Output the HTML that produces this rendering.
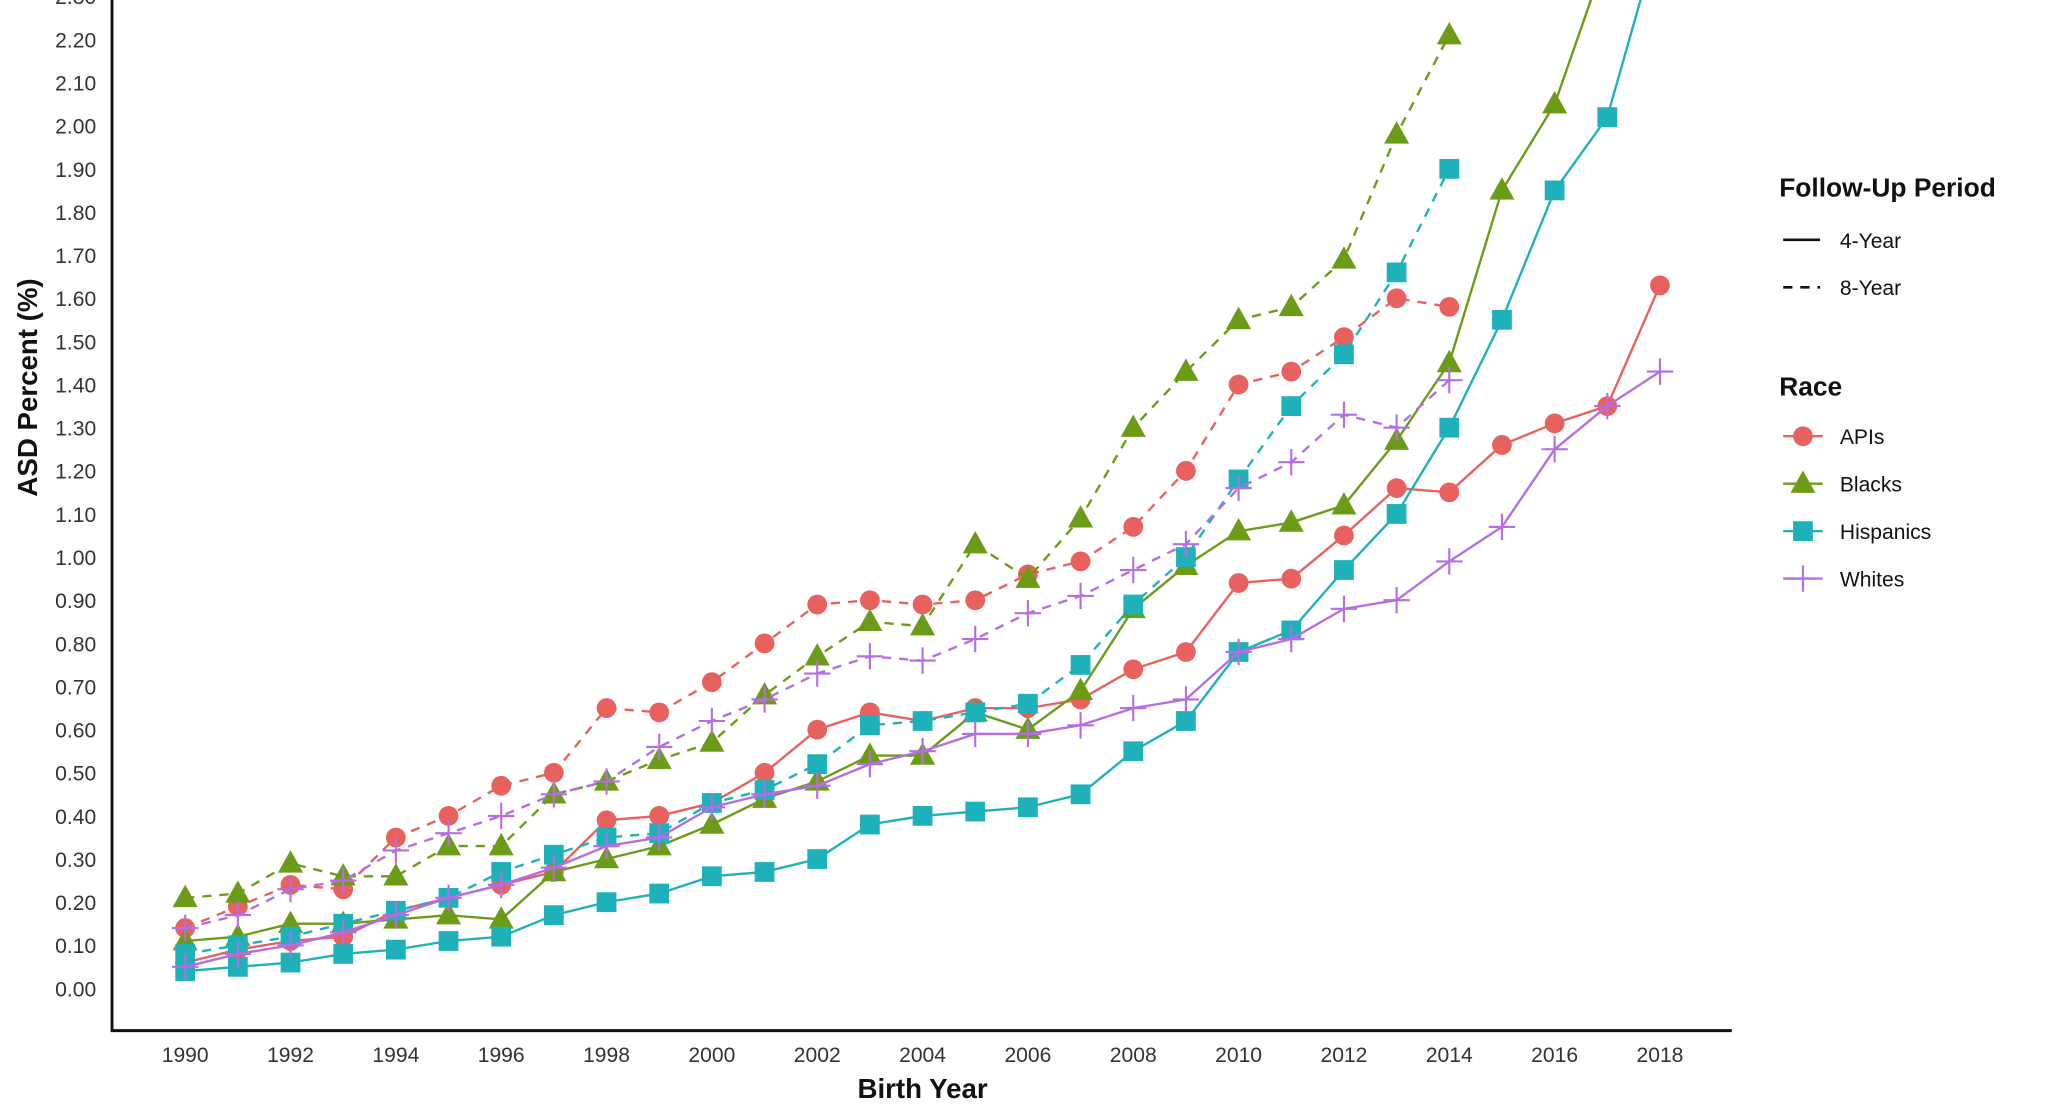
<!DOCTYPE html>
<html><head><meta charset="utf-8"><style>
html,body{margin:0;padding:0;background:#fff;width:2056px;height:1118px;overflow:hidden}
svg{display:block;font-family:"Liberation Sans",Arial,sans-serif}
</style></head><body>
<svg id="chart" width="2056" height="1118" viewBox="0 0 1560 848.3" preserveAspectRatio="none" xmlns="http://www.w3.org/2000/svg">
<defs><clipPath id="plotclip"><rect x="86" y="0" width="1230" height="780"/></clipPath></defs>
<g id="axes"></g>
<g id="marks" clip-path="url(#plotclip)"></g>
<g id="legend"></g>
</svg>
<script>
const years = [1990,1991,1992,1993,1994,1995,1996,1997,1998,1999,2000,2001,2002,2003,2004,2005,2006,2007,2008,2009,2010,2011,2012,2013,2014,2015,2016,2017,2018];
const yTicks = [0,0.1,0.2,0.3,0.4,0.5,0.6,0.7,0.8,0.9,1.0,1.1,1.2,1.3,1.4,1.5,1.6,1.7,1.8,1.9,2.0,2.1,2.2,2.3];
const xTicks = [1990,1992,1994,1996,1998,2000,2002,2004,2006,2008,2010,2012,2014,2016,2018];
const apis4 = [0.06,0.09,0.11,0.12,0.18,0.21,0.24,0.27,0.39,0.40,0.43,0.50,0.60,0.64,0.62,0.65,0.65,0.67,0.74,0.78,0.94,0.95,1.05,1.16,1.15,1.26,1.31,1.35,1.63];
const apis8 = [0.14,0.19,0.24,0.23,0.35,0.40,0.47,0.50,0.65,0.64,0.71,0.80,0.89,0.90,0.89,0.90,0.96,0.99,1.07,1.20,1.40,1.43,1.51,1.60,1.58];
const blacks4 = [0.11,0.12,0.15,0.15,0.16,0.17,0.16,0.27,0.30,0.33,0.38,0.44,0.48,0.54,0.54,0.64,0.60,0.69,0.88,0.98,1.06,1.08,1.12,1.27,1.45,1.85,2.05,2.40,2.80];
const blacks8 = [0.21,0.22,0.29,0.26,0.26,0.33,0.33,0.45,0.48,0.53,0.57,0.68,0.77,0.85,0.84,1.03,0.95,1.09,1.30,1.43,1.55,1.58,1.69,1.98,2.21];
const hisp4 = [0.04,0.05,0.06,0.08,0.09,0.11,0.12,0.17,0.20,0.22,0.26,0.27,0.30,0.38,0.40,0.41,0.42,0.45,0.55,0.62,0.78,0.83,0.97,1.10,1.30,1.55,1.85,2.02,2.45];
const hisp8 = [0.08,0.10,0.12,0.15,0.18,0.21,0.27,0.31,0.35,0.36,0.43,0.46,0.52,0.61,0.62,0.64,0.66,0.75,0.89,1.00,1.18,1.35,1.47,1.66,1.90];
const whites4 = [0.05,0.08,0.10,0.13,0.17,0.21,0.24,0.28,0.33,0.35,0.42,0.45,0.47,0.52,0.55,0.59,0.59,0.61,0.65,0.67,0.78,0.81,0.88,0.90,0.99,1.07,1.25,1.35,1.43];
const whites8 = [0.14,0.17,0.23,0.25,0.32,0.36,0.40,0.45,0.48,0.56,0.62,0.67,0.73,0.77,0.76,0.81,0.87,0.91,0.97,1.03,1.16,1.22,1.33,1.30,1.41];

const NS="http://www.w3.org/2000/svg";
const xs = y => 140.5 + (y-1990)*(1119/28);
const ys = v => 750 - v*327.3;
function mk(tag, attrs, parent){const e=document.createElementNS(NS,tag);for(const k in attrs)e.setAttribute(k,attrs[k]);parent.appendChild(e);return e;}
const axes=document.getElementById('axes'), marks=document.getElementById('marks'), legend=document.getElementById('legend');

let yl=mk('line',{x1:85,y1:0,x2:85,y2:783,stroke:'#111','stroke-width':2.2},axes);


let xl=mk('line',{x1:84,y1:782,x2:1314,y2:782,stroke:'#111','stroke-width':2.2},axes);


yTicks.forEach(v=>{
  const t=mk('text',{x:73,y:ys(v)+6,'text-anchor':'end','font-size':16,fill:'#333'},axes);
  t.textContent=v.toFixed(2);
  
  
});
xTicks.forEach(y=>{
  const t=mk('text',{x:xs(y),y:806,'text-anchor':'middle','font-size':16,fill:'#333'},axes);
  t.textContent=y;
  
  
});
let xt=mk('text',{x:700,y:833,'text-anchor':'middle','font-size':21,'font-weight':'bold',fill:'#111'},axes);
xt.textContent='Birth Year';


let yt=mk('text',{x:0,y:0,'text-anchor':'middle','font-size':21,'font-weight':'bold',fill:'#111',transform:'translate(28,294) rotate(-90)'},axes);
yt.textContent='ASD Percent (%)';



const colors={apis:'#e8615e',blacks:'#6b9b17',hisp:'#1fb1ba',whites:'#b56de3'};
function marker(kind,x,y,color,parent){
  let e;
  if(kind==='apis') e=mk('circle',{cx:x,cy:y,r:7.5,fill:color},parent);
  else if(kind==='blacks') e=mk('polygon',{points:`${x},${y-10} ${x-9.5},${y+7} ${x+9.5},${y+7}`,fill:color},parent);
  else if(kind==='hisp') e=mk('rect',{x:x-7.5,y:y-7.5,width:15,height:15,fill:color},parent);
  else { e=mk('path',{d:`M${x-10},${y}H${x+10}M${x},${y-10}V${y+10}`,stroke:color,'stroke-width':1.6,fill:'none'},parent); }
  return e;
}
const series=[['apis',apis4,false],['apis',apis8,true],['blacks',blacks4,false],['blacks',blacks8,true],['hisp',hisp4,false],['hisp',hisp8,true],['whites',whites4,false],['whites',whites8,true]];
series.forEach(([k,vals,dashed])=>{
  const g=mk('g',{},marks);
  
  
  const pts=vals.map((v,i)=>xs(years[i]).toFixed(1)+','+ys(v).toFixed(1)).join(' ');
  const pl=mk('polyline',{points:pts,fill:'none',stroke:colors[k],'stroke-width':1.8,'stroke-dasharray':dashed?'7 6':'none'},g);
  
  
  vals.forEach((v,i)=>{
    const m=marker(k,xs(years[i]),ys(v),colors[k],g);
    
    
  });
});

function txt(x,y,s,size,bold,name){const t=mk('text',{x:x,y:y,'font-size':size,'font-weight':bold?'bold':'normal',fill:'#111'},legend);t.textContent=s;return t;}
txt(1350,149,'Follow-Up Period',20,true,'legend-title-follow-up');
let l1=mk('line',{x1:1353,y1:182,x2:1381,y2:182,stroke:'#111','stroke-width':2},legend);


txt(1396,188,'4-Year',16,false,'legend-4-year');
let l2=mk('line',{x1:1353,y1:218,x2:1381,y2:218,stroke:'#111','stroke-width':2,'stroke-dasharray':'7 6'},legend);


txt(1396,224,'8-Year',16,false,'legend-8-year');
txt(1350,300,'Race',20,true,'legend-title-race');
[['apis','APIs',331],['blacks','Blacks',367],['hisp','Hispanics',403],['whites','Whites',439]].forEach(([k,label,y])=>{
  const ln=mk('line',{x1:1353,y1:y,x2:1383,y2:y,stroke:colors[k],'stroke-width':1.8},legend);
  
  
  const m=marker(k,1368,y,colors[k],legend);
  
  
  txt(1396,y+6,label,16,false,'legend-entry-'+k);
});
</script>
</body></html>
